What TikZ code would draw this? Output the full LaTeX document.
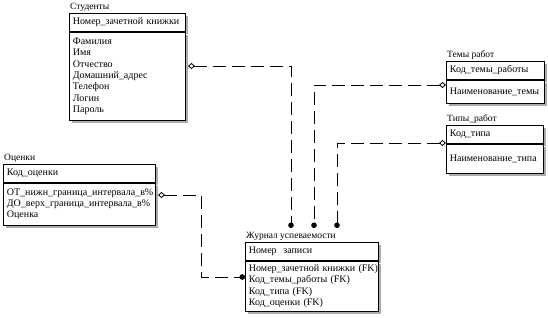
\documentclass[tikz,border=0pt]{standalone}
\usepackage{fontspec}
\setmainfont{Liberation Serif}
\usetikzlibrary{arrows.meta,shadows,positioning}

\begin{document}
\begin{tikzpicture}[x=1pt,y=-1pt,font=\fontsize{10}{11.3}\selectfont]
\tikzstyle{ent} = [rectangle, draw, fill=white, anchor=north west, align=left, inner xsep=3.5pt, inner ysep=2pt, line width=0.8pt, drop shadow={fill=gray!65, opacity=1, shadow xshift=3pt, shadow yshift=-3pt}]
\tikzstyle{title} = [anchor=south west, inner sep=1pt, font=\fontsize{9.5}{10}\selectfont]
\tikzstyle{rel} = [line width=0.8pt, dash pattern=on 13pt off 6pt, {Diamond[open,length=7pt,width=6pt]}-{Circle[length=5.5pt]}]
\useasboundingbox (0,0) rectangle (548,317);

% Студенты
\node (studH) [ent, text width=109pt, minimum height=18pt] at (69,13) {Номер\_зачетной книжки};
\node (studB) [ent, text width=109pt, minimum height=88pt] at (studH.south west) {Фамилия\\Имя\\Отчество\\Домашний\_адрес\\Телефон\\Логин\\Пароль};
\node (studT) [title] at (studH.north west) {Студенты};

% Оценки
\node (ocH) [ent, text width=145pt, minimum height=18pt] at (3,164) {Код\_оценки};
\node (ocB) [ent, text width=145pt, minimum height=42pt] at (ocH.south west) {ОТ\_нижн\_граница\_интервала\_в\%\\ДО\_верх\_граница\_интервала\_в\%\\Оценка};
\node (ocT) [title] at (ocH.north west) {Оценки};

% Темы работ
\node (temH) [ent, text width=91pt, minimum height=18pt] at (446,61) {Код\_темы\_работы};
\node (temB) [ent, text width=91pt, minimum height=23pt] at (temH.south west) {Наименование\_темы};
\node (temT) [title] at (temH.north west) {Темы работ};

% Типы работ
\node (tipH) [ent, text width=90pt, minimum height=18pt] at (446,125) {Код\_типа};
\node (tipB) [ent, text width=90pt, minimum height=29pt] at (tipH.south west) {Наименование\_типа};
\node (tipT) [title] at (tipH.north west) {Типы\_работ};

% Журнал успеваемости
\node (jrnH) [ent, text width=126pt, minimum height=18pt] at (245,242) {Номер\ \ записи};
\node (jrnB) [ent, text width=126pt, minimum height=50pt] at (jrnH.south west) {\mbox{Номер\_зачетной книжки (FK)}\\Код\_темы\_работы (FK)\\Код\_типа (FK)\\Код\_оценки (FK)};
\node (jrnT) [title] at (jrnH.north west) {Журнал успеваемости};

% концы связей
\coordinate (s1) at (188,66);
\coordinate (s2) at (446,85);
\coordinate (s3) at (446,143);
\coordinate (s4) at (158,195);
\coordinate (d1) at (291,228);
\coordinate (d2) at (314,228);
\coordinate (d3) at (337,228);
\coordinate (d4) at (245,277);

\draw [rel] (s1) -| (d1);
\draw [rel] (s2) -| (d2);
\draw [rel] (s3) -| (d3);
\draw [rel] (s4) -- ++(43,0) |- (d4);

\end{tikzpicture}
\end{document}
